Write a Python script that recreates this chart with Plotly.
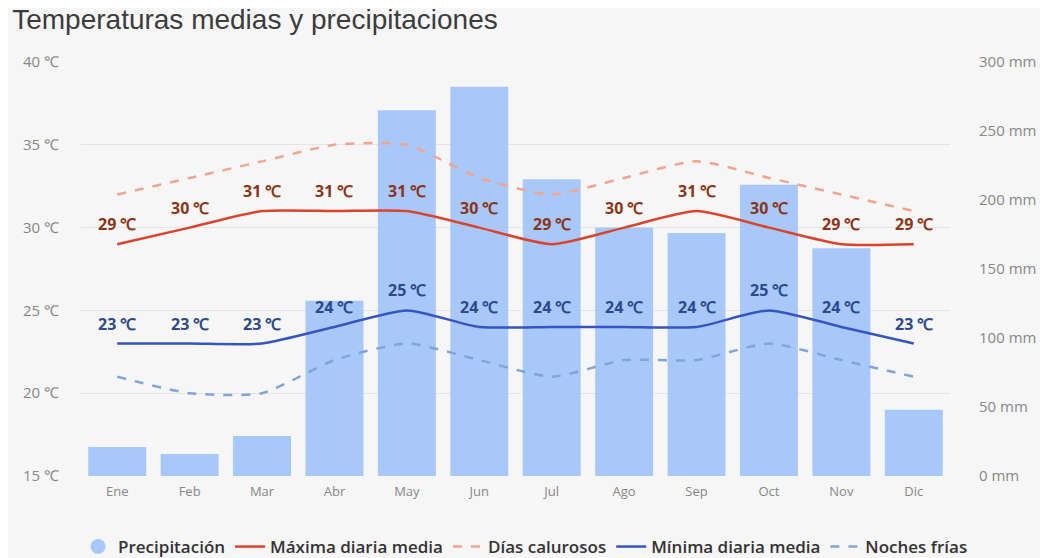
import plotly.graph_objects as go

months = ["Ene", "Feb", "Mar", "Abr", "May", "Jun", "Jul", "Ago", "Sep", "Oct", "Nov", "Dic"]
precip_mm = [21, 16, 29, 127, 265, 282, 215, 180, 176, 211, 165, 48]
max_temp = [29, 30, 31, 31, 31, 30, 29, 30, 31, 30, 29, 29]
hot_days = [32, 33, 34, 35, 35, 33, 32, 33, 34, 33, 32, 31]
min_temp = [23, 23, 23, 24, 25, 24, 24, 24, 24, 25, 24, 23]
cold_nights = [21, 20, 20, 22, 23, 22, 21, 22, 22, 23, 22, 21]
temp_ticks = [15, 20, 25, 30, 35, 40]
precip_ticks = [0, 50, 100, 150, 200, 250, 300]

C_BAR = "#a8c8fa"
C_MAX = "#d9452c"
C_HOT = "#f3a48e"
C_MIN = "#3556c0"
C_COLD = "#7fa5d9"

fig = go.Figure()

# precipitation bars on the (right-side) primary axis so temperature lines draw on top
fig.add_trace(go.Bar(x=months, y=precip_mm, yaxis="y", marker_color=C_BAR,
                     marker_line_width=0, showlegend=False, name="Precipitación"))
fig.add_trace(go.Scatter(x=[None], y=[None], mode="markers", name="Precipitación",
                         marker=dict(symbol="circle", size=15, color=C_BAR)))
fig.add_trace(go.Scatter(x=months, y=max_temp, mode="lines", name="Máxima diaria media", yaxis="y2",
                         line=dict(color=C_MAX, width=2.5, shape="spline", smoothing=0.6)))
fig.add_trace(go.Scatter(x=months, y=hot_days, mode="lines", name="Días calurosos", yaxis="y2",
                         line=dict(color=C_HOT, width=2.5, dash="dash", shape="spline", smoothing=0.6)))
fig.add_trace(go.Scatter(x=months, y=min_temp, mode="lines", name="Mínima diaria media", yaxis="y2",
                         line=dict(color=C_MIN, width=2.5, shape="spline", smoothing=0.6)))
fig.add_trace(go.Scatter(x=months, y=cold_nights, mode="lines", name="Noches frías", yaxis="y2",
                         line=dict(color=C_COLD, width=2.5, dash="dash", shape="spline", smoothing=0.6)))

annots = []
for m, v in zip(months, max_temp):
    annots.append(dict(x=m, y=v, xref="x", yref="y2", text=f"<b>{v} ℃</b>", showarrow=False,
                       yshift=20, font=dict(family="Open Sans", size=16, color="#8a3418")))
for m, v in zip(months, min_temp):
    annots.append(dict(x=m, y=v, xref="x", yref="y2", text=f"<b>{v} ℃</b>", showarrow=False,
                       yshift=20, font=dict(family="Open Sans", size=16, color="#2c4a8c")))

fig.update_layout(
    width=1048, height=570,
    paper_bgcolor="#f6f6f6", plot_bgcolor="#f6f6f6",
    margin=dict(l=73, r=106, t=54, b=102),
    title=dict(text="Temperaturas medias y precipitaciones", x=0.004, xanchor="left",
               yref="container", y=1 - 11 / 570, yanchor="middle",
               font=dict(family="Liberation Sans", size=28, color="#3c3c3c")),
    font=dict(family="Open Sans", color="#888888", size=13),
    bargap=0.2,
    xaxis=dict(showgrid=False, tickfont=dict(size=13, color="#888888"), ticks="",
               showline=False, zeroline=False, ticklabelstandoff=6),
    yaxis=dict(range=[0, 300], tickvals=precip_ticks, ticktext=[f"{t} mm" for t in precip_ticks],
               side="right", showgrid=False, zeroline=False,
               tickfont=dict(size=15, color="#888888"), ticklabelstandoff=28),
    yaxis2=dict(range=[15, 40], tickvals=temp_ticks, ticktext=[f"{t} ℃" for t in temp_ticks],
                overlaying="y", side="left",
                showgrid=True, gridcolor="#e4e4e4", gridwidth=1, zeroline=False,
                tickfont=dict(size=15, color="#888888"), ticklabelstandoff=21),
    legend=dict(orientation="h", x=1.0265, xanchor="right", y=-0.1715, yanchor="middle",
                font=dict(family="Open Sans", size=17, color="#333333", weight=600),
                itemwidth=30, bgcolor="rgba(0,0,0,0)"),
    annotations=annots,
)

fig.write_html("out.html")
